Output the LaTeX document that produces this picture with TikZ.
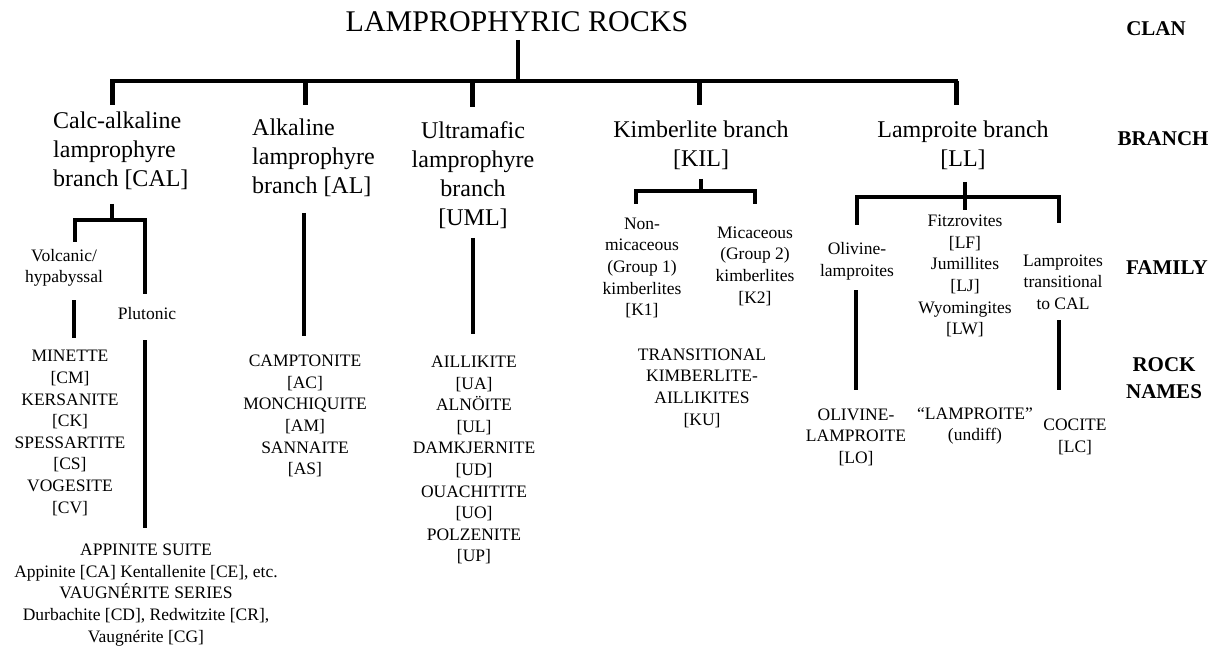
\documentclass[tikz,border=0pt]{standalone}
\usepackage{fontspec}
\setmainfont{Liberation Serif}
\usepackage{tikz}

\begin{document}
\begin{tikzpicture}[x=1pt, y=-1pt,
    every node/.style={inner sep=0pt},
    titletxt/.style={font=\fontsize{30}{36}\selectfont},
    branchtxt/.style={font=\fontsize{24}{29}\selectfont, align=left},
    branchmid/.style={font=\fontsize{24}{29}\selectfont, align=center},
    smalltxt/.style={font=\fontsize{17.5}{21.6}\selectfont, align=center},
    leveltxt/.style={font=\fontsize{21}{27}\selectfont\bfseries, align=center},
    bar/.style={line width=4pt, line join=miter},
    stub/.style={line width=5pt},
    thinbar/.style={line width=3.5pt, line join=miter}]
        \useasboundingbox (0,0) rectangle (1220,652);

        % --- CLAN ---
        \node (rocks) at (517,22) [titletxt] {LAMPROPHYRIC ROCKS};
        \coordinate (top) at (518,40);
        \coordinate (hub) at (518,81);
        \coordinate (calS) at (112,105);
        \coordinate (calB) at (112,81);
        \coordinate (llB) at (956,81);
        \coordinate (llS) at (956,105);
        \coordinate (alB) at (305,81);
        \coordinate (alS) at (305,105);
        \coordinate (umlB) at (472,81);
        \coordinate (umlS) at (472,107);
        \coordinate (kilB) at (699,81);
        \coordinate (kilS) at (699,105);

        \draw[bar] (top) -- (hub);
        \draw[bar] (calS) -- (calB) -- (llB) -- (llS);
        \draw[stub] (calB) -- (calS);
        \draw[stub] (llB) -- (llS);
        \draw[stub] (alB) -- (alS);
        \draw[stub] (umlB) -- (umlS);
        \draw[stub] (kilB) -- (kilS);

        % --- BRANCHES ---
        \node (cal) at (53,151) [branchtxt, anchor=west] {Calc-alkaline\\lamprophyre\\branch [CAL]};
        \node (al) at (252,158) [branchtxt, anchor=west] {Alkaline\\lamprophyre\\branch [AL]};
        \node (uml) at (473,175) [branchmid] {Ultramafic\\lamprophyre\\branch\\{[UML]}};
        \node (kil) at (701,145) [branchmid] {Kimberlite branch\\{[KIL]}};
        \node (ll) at (963,145) [branchmid] {Lamproite branch\\{[LL]}};

        % --- CALC-ALKALINE ---
        \coordinate (calT) at (112,204);
        \coordinate (calM) at (112,220);
        \coordinate (volcT) at (75,242);
        \coordinate (volcM) at (75,220);
        \coordinate (plutM) at (145,220);
        \coordinate (plutT) at (145,294);
        \draw[thinbar] (volcT) -- (volcM) -- (plutM) -- (plutT);
        \draw[thinbar] (calT) -- (calM);

        \node (volc) at (64,268) [smalltxt] {Volcanic/\\hypabyssal};
        \node (plut) at (147,314) [smalltxt] {Plutonic};
        \coordinate (volcA) at (74,300);
        \coordinate (volcB) at (74,338);
        \coordinate (plutA) at (145,340);
        \coordinate (plutB) at (145,528);
        \draw[thinbar] (volcA) -- (volcB);
        \draw[thinbar] (plutA) -- (plutB);

        \node (calnames) at (70,433) [smalltxt] {MINETTE\\{[CM]}\\KERSANITE\\{[CK]}\\SPESSARTITE\\{[CS]}\\VOGESITE\\{[CV]}};
        \node (appinite) at (146,595) [smalltxt] {APPINITE SUITE\\Appinite [CA] Kentallenite [CE], etc.\\VAUGNÉRITE SERIES\\Durbachite [CD], Redwitzite [CR],\\Vaugnérite [CG]};

        % --- ALKALINE ---
        \coordinate (alA) at (304,213);
        \coordinate (alZ) at (304,336);
        \draw[thinbar] (alA) -- (alZ);
        \node (alnames) at (305,416) [smalltxt] {CAMPTONITE\\{[AC]}\\MONCHIQUITE\\{[AM]}\\SANNAITE\\{[AS]}};

        % --- ULTRAMAFIC ---
        \coordinate (umlA) at (473,238);
        \coordinate (umlZ) at (473,334);
        \draw[thinbar] (umlA) -- (umlZ);
        \node (umlnames) at (474,460) [smalltxt] {AILLIKITE\\{[UA]}\\ALNÖITE\\{[UL]}\\DAMKJERNITE\\{[UD]}\\OUACHITITE\\{[UO]}\\POLZENITE\\{[UP]}};

        % --- KIMBERLITE ---
        \coordinate (kilT) at (701,179);
        \coordinate (kilM) at (701,191);
        \coordinate (k1T) at (636,204);
        \coordinate (k1M) at (636,191);
        \coordinate (k2M) at (755,191);
        \coordinate (k2T) at (755,204);
        \draw[thinbar] (k1T) -- (k1M) -- (k2M) -- (k2T);
        \draw[thinbar] (kilT) -- (kilM);
        \node (k1) at (642,268) [smalltxt] {Non-\\micaceous\\(Group 1)\\kimberlites\\{[K1]}};
        \node (k2) at (755,266) [smalltxt] {Micaceous\\(Group 2)\\kimberlites\\{[K2]}};
        \node (ku) at (702,388) [smalltxt] {TRANSITIONAL\\KIMBERLITE-\\AILLIKITES\\{[KU]}};

        % --- LAMPROITE ---
        \coordinate (llT) at (965,182);
        \coordinate (llZ) at (965,210);
        \coordinate (loT) at (857,225);
        \coordinate (loM) at (857,197);
        \coordinate (lcM) at (1059,197);
        \coordinate (lcT) at (1059,223);
        \draw[thinbar] (loT) -- (loM) -- (lcM) -- (lcT);
        \draw[thinbar] (llT) -- (llZ);
        \node (olfam) at (857,261) [smalltxt] {Olivine-\\lamproites};
        \node (fitz) at (965,276) [smalltxt] {Fitzrovites\\{[LF]}\\Jumillites\\{[LJ]}\\Wyomingites\\{[LW]}};
        \node (ltrans) at (1063,282) [smalltxt] {Lamproites\\transitional\\to CAL};
        \coordinate (olA) at (856,290);
        \coordinate (olZ) at (856,390);
        \coordinate (ltA) at (1059,320);
        \coordinate (ltZ) at (1059,390);
        \draw[thinbar] (olA) -- (olZ);
        \draw[thinbar] (ltA) -- (ltZ);
        \node (lo) at (856,437) [smalltxt] {OLIVINE-\\LAMPROITE\\{[LO]}};
        \node (lundiff) at (975,426) [smalltxt] {“LAMPROITE”\\(undiff)};
        \node (lc) at (1075,437) [smalltxt] {COCITE\\{[LC]}};

        % --- LEVELS ---
        \node (clan) at (1156,29) [leveltxt] {CLAN};
        \node (branch) at (1163,139) [leveltxt] {BRANCH};
        \node (family) at (1167,268) [leveltxt] {FAMILY};
        \node (rocknames) at (1164,378) [leveltxt] {ROCK\\NAMES};
    \end{tikzpicture}
\end{document}
